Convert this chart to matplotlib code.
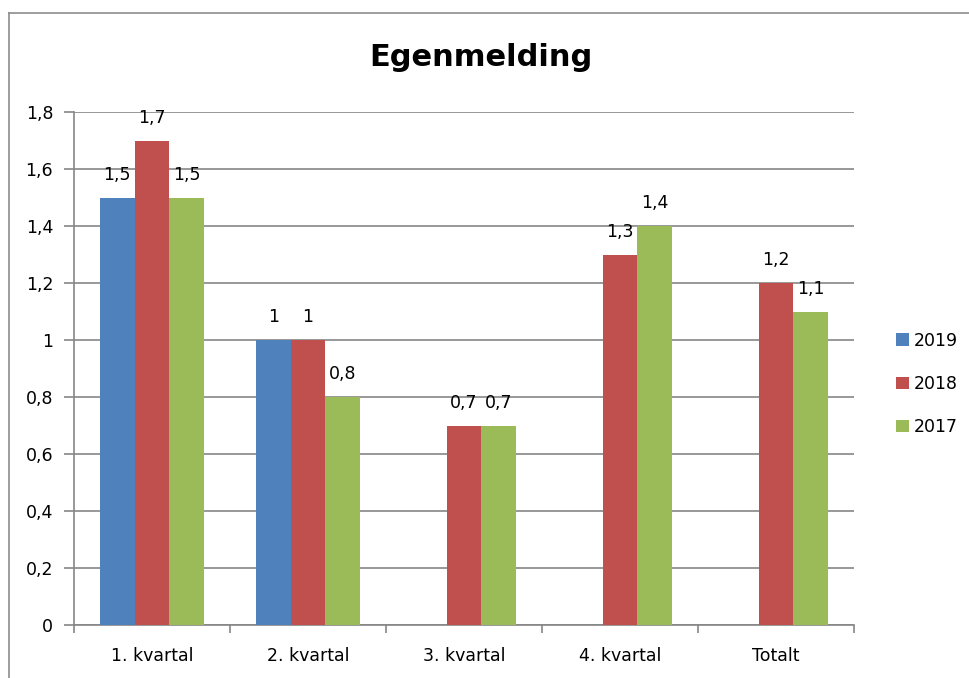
import matplotlib
matplotlib.use('Agg')
import matplotlib.pyplot as plt
import matplotlib.ticker as mticker
from matplotlib.lines import Line2D
import numpy as np

# Data
categories = ['1. kvartal', '2. kvartal', '3. kvartal', '4. kvartal', 'Totalt']
years = ['2019', '2018', '2017']
v2019 = [1.5, 1.0, None, None, None]
v2018 = [1.7, 1.0, 0.7, 1.3, 1.2]
v2017 = [1.5, 0.8, 0.7, 1.4, 1.1]
colors = ['#4F81BD', '#C0504D', '#9BBB59']
yticks = [0, 0.2, 0.4, 0.6, 0.8, 1.0, 1.2, 1.4, 1.6, 1.8]


def komma(v):
    return ('%g' % round(v, 2)).replace('.', ',')


plt.rcParams['font.family'] = ['DejaVu Sans']
fig = plt.figure(figsize=(9.7, 6.78), dpi=100)
ax = fig.add_axes([74 / 970, 1 - 625 / 678, (854 - 74) / 970, (625 - 112) / 678])

fs = 12.5
x = np.arange(len(categories))
w = 0.222
series = [v2019, v2018, v2017]
for i, (vals, col, yr) in enumerate(zip(series, colors, years)):
    pos = x + (i - 1) * w
    h = [v if v is not None else 0 for v in vals]
    bars = ax.bar(pos, h, width=w, color=col, label=yr, zorder=3)
    for b, v in zip(bars, vals):
        if v is None:
            continue
        ax.annotate(komma(v), (b.get_x() + b.get_width() / 2, v),
                    xytext=(0, 10), textcoords='offset points',
                    ha='center', va='bottom', fontsize=fs)

ax.set_xlim(-0.5, len(categories) - 0.5)
ax.set_ylim(0, 1.8)
ax.set_yticks(yticks)
ax.yaxis.set_major_formatter(mticker.FuncFormatter(lambda v, p: komma(v)))
ax.set_xticks(x)
ax.set_xticklabels(categories)
ax.set_xticks(np.arange(len(categories) + 1) - 0.5, minor=True)
ax.tick_params(axis='x', which='major', length=0, pad=16, labelsize=fs)
ax.tick_params(axis='x', which='minor', length=6, color='#868686', width=1.2)
ax.tick_params(axis='y', length=7, color='#868686', width=1.2, pad=8, labelsize=fs)
ax.grid(axis='y', color='#868686', linewidth=1.2, zorder=0)
for s in ['top', 'right']:
    ax.spines[s].set_visible(False)
for s in ['left', 'bottom']:
    ax.spines[s].set_color('#868686')
    ax.spines[s].set_linewidth(1.2)

fig.text(481 / 970, 1 - 58 / 678, 'Egenmelding', ha='center', va='center',
         fontsize=22, fontweight='bold')

leg = ax.legend(loc='center left', bbox_to_anchor=(880 / 970, 1 - 384 / 678),
                bbox_transform=fig.transFigure,
                frameon=False, fontsize=fs, handlelength=0.75, handleheight=0.75,
                handletextpad=0.3, labelspacing=1.45)

# border of the chart object
fig.add_artist(Line2D([9 / 970, 9 / 970], [0, 1 - 13 / 678], color='#8c8c8c', lw=1.2,
                      transform=fig.transFigure))
fig.add_artist(Line2D([9 / 970, 1], [1 - 13 / 678, 1 - 13 / 678], color='#8c8c8c', lw=1.2,
                      transform=fig.transFigure))

fig.savefig('out.png', dpi=100)
